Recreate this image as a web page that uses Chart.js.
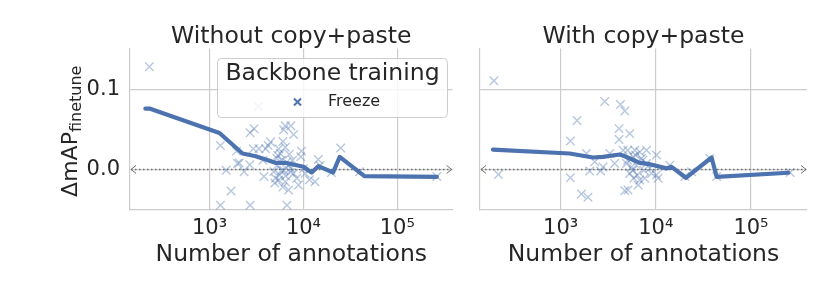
<!DOCTYPE html>
<html>
<head>
<meta charset="utf-8">
<script src="https://cdn.jsdelivr.net/npm/chart.js@4.4.1/dist/chart.umd.min.js"></script>
<style>
  html, body { margin: 0; padding: 0; background: #fff; }
  #wrap { position: relative; width: 830px; height: 297px; }
  #c1 { position: absolute; left: 0; top: 0; }
  #c2 { position: absolute; left: 460px; top: 0; }
</style>
</head>
<body>
<div id="wrap">
  <canvas id="c1" width="460" height="297"></canvas>
  <canvas id="c2" width="370" height="297"></canvas>
</div>
<script>
// ---- data ----
var titles = ["Without copy+paste", "With copy+paste"];
var xTicks = [1000, 10000, 100000];
var xTickLabels = ["10\u00B3", "10\u2074", "10\u2075"];
var yTicks = [0, 0.1];
var yTickLabels = ["0.0", "0.1"];

// without copy+paste: scatter (number of annotations, delta mAP)
var leftX = [228, 3300, 1306, 1692, 1306, 2704, 1500, 1986, 2704, 2978, 4207, 4457, 1936, 2926, 3357,
  3953, 5457, 6050, 6150, 7345, 6410, 7850, 6410, 5690, 7065, 9530, 9375, 14390, 2070, 2680,
  3793, 4830, 5035, 5585, 6150, 6410, 6050, 7850, 8490, 10430, 11570, 13270, 10000, 6670, 5240,
  6950, 24950, 39550, 263600, 19860, 15000, 5200, 5860, 6620, 7290, 4950, 6950, 8850, 7650, 3700, 2335,
  5320, 5860, 5457, 6460, 7290];
var leftY = [0.129, 0.079, 0.030, -0.027, -0.045, -0.045, -0.001, 0.0075, 0.046, 0.051, 0.030, 0.0345, 0.023, 0.026, 0.026,
  0.026, 0.026, 0.035, 0.050, 0.055, 0.055, 0.044, 0.028, 0.020, 0.019, 0.023, 0.016, 0.0125, 0.008, 0.006,
  -0.009, -0.003, -0.011, -0.007, -0.001, -0.0155, -0.022, -0.005, -0.011, -0.005, -0.013, -0.0155, 0.001, -0.045, 0.005,
  0.005, 0.027, -0.003, -0.009, -0.004, 0.005, 0.014, 0.0115, 0.009, 0.0016, -0.017, -0.026, -0.0195, 0.0116, 0.0116, -0.003,
  0.0179, -0.0009, -0.0134, -0.0084, -0.0034];
// without copy+paste: smoothed line
var leftLineX = [207, 233, 1275, 2245, 3105, 5035, 6410, 10000, 12220, 14390, 20700, 24320, 44600, 263600];
var leftLineY = [0.0763, 0.0763, 0.0458, 0.020, 0.0166, 0.0083, 0.0083, 0.0033, -0.0038, 0.0041, -0.0038, 0.0158, -0.0084, -0.0093];

// with copy+paste: scatter
var rightX = [199, 222, 2905, 4250, 4720, 1485, 1265, 4110, 5320, 4110, 1265, 1653, 1936, 4720, 5105,
  1866, 2018, 2636, 2785, 3281, 3700, 4920, 2280, 4530, 6010, 6790, 7980, 5770, 7065, 5550,
  6260, 7980, 5320, 6360, 6790, 6520, 9020, 10160, 10560, 14030, 10160, 20180, 23770, 36980, 43550,
  257600, 5070, 7300, 8650, 5860, 7650, 5070, 5730, 7480, 6150];
var rightY = [0.1116, -0.0063, 0.0854, 0.0816, 0.0733, 0.0616, 0.0358, 0.0513, 0.045, 0.0375, -0.0105, -0.031, -0.035, -0.0268, -0.026,
  0.020, -0.002, -0.002, 0.003, 0.020, 0.0075, 0.0075, 0.0095, 0.024, 0.024, 0.022, 0.024, 0.0158, 0.0138, 0.003,
  0.0054, 0.0075, -0.005, -0.007, -0.0134, -0.0196, -0.005, 0.018, -0.011, 0.0054, -0.007, -0.009, -0.003, 0.0138, -0.009,
  -0.004, 0.024, 0.0116, 0.0016, -0.011, -0.011, 0.0116, -0.0009, -0.0009, 0.0179];
// with copy+paste: smoothed line
var rightLineX = [194, 1244, 2188, 2785, 4178, 4720, 6790, 8650, 12970, 14640, 20700, 38550, 43550, 247300];
var rightLineY = [0.025, 0.020, 0.015, 0.0158, 0.0188, 0.0166, 0.0083, 0.0066, 0.0013, 0.0033, -0.0105, 0.015, -0.0093, -0.0042];

var FONT = "DejaVu Sans";
var TXT = "#262626";
var GRID = "#cccccc";
var BLUE = "#4c72b0";

function pts(xs, ys) {
  return xs.map(function (x, i) { return { x: x, y: ys[i] }; });
}

// dotted zero line with arrow heads at both ends
var zeroLine = {
  id: "zeroLine",
  beforeDatasetsDraw: function (chart) {
    var a = chart.chartArea, ctx = chart.ctx;
    var y = chart.scales.y.getPixelForValue(0);
    var x0 = a.left + 1, x1 = a.right - 1;
    ctx.save();
    ctx.strokeStyle = "#6f6f6f";
    ctx.lineWidth = 1.5;
    ctx.setLineDash([1.5, 2.5]);
    ctx.beginPath();
    ctx.moveTo(x0, y);
    ctx.lineTo(x1, y);
    ctx.stroke();
    ctx.setLineDash([]);
    ctx.lineWidth = 1;
    ctx.beginPath();
    ctx.moveTo(x0 + 5, y - 4); ctx.lineTo(x0, y); ctx.lineTo(x0 + 5, y + 4);
    ctx.moveTo(x1 - 5, y - 4); ctx.lineTo(x1, y); ctx.lineTo(x1 - 5, y + 4);
    ctx.stroke();
    ctx.restore();
  }
};

// y axis label with subscript
var yLabel = {
  id: "yLabel",
  afterDraw: function (chart) {
    var ctx = chart.ctx, a = chart.chartArea;
    var main = "\u0394mAP", sub = "finetune";
    ctx.save();
    ctx.fillStyle = TXT;
    ctx.font = "22px '" + FONT + "'";
    var w1 = ctx.measureText(main).width;
    ctx.font = "16px '" + FONT + "'";
    var w2 = ctx.measureText(sub).width;
    var cy = (a.top + a.bottom) / 2 + 2;
    ctx.translate(77, cy + (w1 + w2) / 2);
    ctx.rotate(-Math.PI / 2);
    ctx.textBaseline = "alphabetic";
    ctx.font = "22px '" + FONT + "'";
    ctx.fillText(main, 0, 0);
    ctx.font = "16px '" + FONT + "'";
    ctx.fillText(sub, w1, 3.5);
    ctx.restore();
  }
};

// legend box inside the left panel
var legendBox = {
  id: "legendBox",
  afterDraw: function (chart) {
    var ctx = chart.ctx;
    var x = 217.5, y = 58.5, w = 230, h = 59, r = 4;
    ctx.save();
    ctx.fillStyle = "rgba(255,255,255,0.8)";
    ctx.strokeStyle = GRID;
    ctx.lineWidth = 1;
    ctx.beginPath();
    ctx.roundRect(x, y, w, h, r);
    ctx.fill();
    ctx.stroke();
    ctx.fillStyle = TXT;
    ctx.textAlign = "center";
    ctx.textBaseline = "middle";
    ctx.font = "23.5px '" + FONT + "'";
    ctx.fillText("Backbone training", x + w / 2, 74);
    ctx.textAlign = "left";
    ctx.font = "16px '" + FONT + "'";
    ctx.fillText("Freeze", 328, 102);
    ctx.strokeStyle = BLUE;
    ctx.lineWidth = 2;
    ctx.beginPath();
    ctx.moveTo(294, 98.5); ctx.lineTo(301, 105.5);
    ctx.moveTo(301, 98.5); ctx.lineTo(294, 105.5);
    ctx.stroke();
    ctx.restore();
  }
};

function panel(canvasId, idx, sx, sy, lx, ly, showY, yWidth, padRight, plugins) {
  return new Chart(document.getElementById(canvasId), {
    type: "scatter",
    data: {
      datasets: [
        {
          label: "mean",
          data: pts(lx, ly),
          showLine: true,
          borderColor: BLUE,
          borderWidth: 4.2,
          pointRadius: 0,
          tension: 0,
          borderJoinStyle: "round",
          borderCapStyle: "round"
        },
        {
          label: "Freeze",
          data: pts(sx, sy),
          pointStyle: "crossRot",
          pointRadius: 6,
          borderWidth: 1.4,
          borderColor: "rgba(76,114,176,0.4)",
          backgroundColor: "rgba(76,114,176,0.4)"
        }
      ]
    },
    options: {
      responsive: false,
      animation: false,
      devicePixelRatio: 1,
      layout: { padding: { top: 0, right: padRight, bottom: 0, left: 0 } },
      plugins: {
        legend: { display: false },
        tooltip: { enabled: false },
        title: {
          display: true,
          text: titles[idx],
          fullSize: false,
          color: TXT,
          font: { family: FONT, size: 23.5, weight: "normal", lineHeight: 1 },
          padding: { top: 25, bottom: 0 }
        }
      },
      scales: {
        x: {
          type: "logarithmic",
          min: 142,
          max: 388000,
          afterBuildTicks: function (s) { s.ticks = xTicks.map(function (v) { return { value: v }; }); },
          afterFit: function (s) { s.height = 87; },
          ticks: {
            autoSkip: false,
            maxRotation: 0,
            padding: 6,
            color: TXT,
            font: { family: FONT, size: 21 },
            callback: function (v, i) { return xTickLabels[i]; }
          },
          grid: { color: GRID, lineWidth: 1.2, drawTicks: false },
          border: { color: GRID, width: 1.2 },
          title: {
            display: true,
            text: "Number of annotations",
            color: TXT,
            font: { family: FONT, size: 23.5 },
            padding: { top: 0, bottom: 28 }
          }
        },
        y: {
          min: -0.051,
          max: 0.152,
          afterBuildTicks: function (s) { s.ticks = yTicks.map(function (v) { return { value: v }; }); },
          afterFit: function (s) { s.width = yWidth; },
          ticks: {
            display: showY,
            padding: 10,
            color: TXT,
            font: { family: FONT, size: 21 },
            callback: function (v, i) { return yTickLabels[i]; }
          },
          grid: { color: GRID, lineWidth: 1.2, drawTicks: false },
          border: { color: GRID, width: 1.2 }
        }
      }
    },
    plugins: plugins
  });
}

panel("c1", 0, leftX, leftY, leftLineX, leftLineY, true, 130, 4, [zeroLine, yLabel, legendBox]);
panel("c2", 1, rightX, rightY, rightLineX, rightLineY, false, 20, 23, [zeroLine]);
</script>
</body>
</html>
